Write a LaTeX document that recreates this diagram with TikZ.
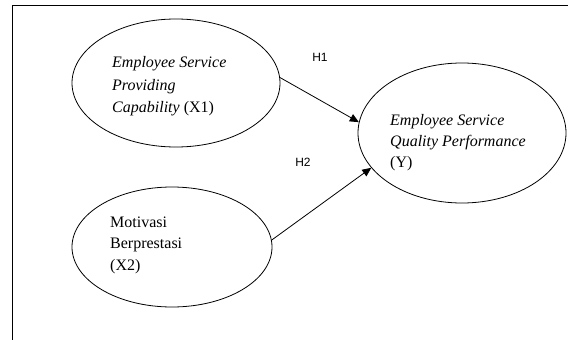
\documentclass[tikz,border=0pt]{standalone}
\usepackage{fontspec}
\setmainfont{Liberation Serif}
\newfontfamily\hsans{Liberation Sans}
\usetikzlibrary{shapes.geometric,arrows.meta}
\begin{document}
\begin{tikzpicture}[x=1pt,y=-1pt,
  oval/.style={draw, ellipse, inner sep=0pt, line width=0.8pt},
  lbl/.style={anchor=base west, inner sep=0pt, font=\fontsize{16}{19}\selectfont},
  hyp/.style={inner sep=0pt, font=\hsans\fontsize{12}{14}\selectfont},
  conn/.style={line width=0.8pt, -{Triangle[length=9pt,width=8pt]}}]
\useasboundingbox (0,0) rectangle (568,340);
% frame
\draw[line width=1pt] (12,340) -- (12,5) -- (568,5);
% ellipses
\node[oval, minimum width=208pt, minimum height=128pt] (x1) at (176,83) {};
\node[oval, minimum width=200pt, minimum height=120pt] (x2) at (172,247) {};
\node[oval, minimum width=208pt, minimum height=140pt] (y) at (462,133) {};
% texts
\node[lbl] (t11) at (112,67) {\textit{Employee Service}};
\node[lbl] (t12) at (112,90) {\textit{Providing}};
\node[lbl] (t13) at (112,112) {\textit{Capability} (X1)};
\node[lbl] (t21) at (110,227) {Motivasi};
\node[lbl] (t22) at (110,248) {Berprestasi};
\node[lbl] (t23) at (110,270) {(X2)};
\node[lbl] (t31) at (390,125) {\textit{Employee Service}};
\node[lbl] (t32) at (390,146) {\textit{Quality Performance}};
\node[lbl] (t33) at (390,167) {(Y)};
\node[hyp] (h1) at (320,57) {H1};
\node[hyp] (h2) at (303,162) {H2};
% connectors
\draw[conn] (x1.3) -- (y.174);
\draw[conn] (x2.4) -- (y.201);
\end{tikzpicture}
\end{document}
